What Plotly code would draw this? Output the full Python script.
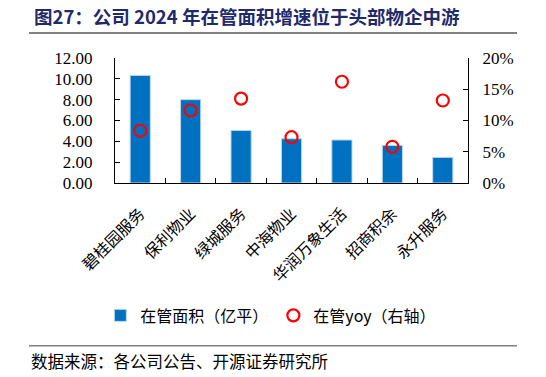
import plotly.graph_objects as go

categories = ["碧桂园服务", "保利物业", "绿城服务", "中海物业", "华润万象生活", "招商积余", "永升服务"]
area = [10.33, 8.00, 5.05, 4.25, 4.13, 3.61, 2.46]
yoy = [0.0836, 0.116, 0.135, 0.0733, 0.162, 0.0579, 0.132]

serif = "Liberation Serif, Times New Roman, serif"
cjk = "Noto Sans CJK SC"

fig = go.Figure()
fig.add_trace(go.Bar(
    x=categories, y=area, name="在管面积（亿平）",
    marker=dict(color="#0070C0", line=dict(color="#BDD7EE", width=1)),
    width=0.4,
))
fig.add_trace(go.Scatter(
    x=categories, y=yoy, name="在管yoy（右轴）", yaxis="y2", mode="markers",
    marker=dict(symbol="circle-open", size=12, color="#FF0000", line=dict(width=2.2, color="#FF0000")),
))

fig.update_layout(
    width=546, height=377,
    margin=dict(l=115, r=78, t=58, b=194, autoexpand=False),
    paper_bgcolor="white", plot_bgcolor="white",
    showlegend=True,
    legend=dict(orientation="h", x=0.45 - 3/353, xanchor="center", y=-(316.5-183.5)/125.5, yanchor="middle",
                font=dict(family=cjk, size=16, color="#000"), itemwidth=30,
                tracegroupgap=0, traceorder="normal"),
    xaxis=dict(type="category", showline=True, linecolor="#000", linewidth=1,
               ticks="inside", tickson="boundaries", ticklen=5, tickcolor="#000",
               tickangle=-45, tickfont=dict(family=cjk, size=16, color="#000"),
               showgrid=False, zeroline=False, automargin=False, ticklabelstandoff=14),
    yaxis=dict(range=[0, 12], dtick=2, tickformat=".2f", showline=True, linecolor="#000",
               linewidth=1, ticks="inside", ticklen=5, tickcolor="#000",
               tickfont=dict(family=serif, size=17, color="#000"), showgrid=False,
               zeroline=False, ticklabelstandoff=18, automargin=False),
    yaxis2=dict(range=[0, 0.2], dtick=0.05, tickformat=".0%", overlaying="y", side="right",
                showline=True, linecolor="#000", linewidth=1, ticks="inside", ticklen=5,
                tickcolor="#000", tickfont=dict(family=serif, size=17, color="#000"),
                showgrid=False, zeroline=False, ticklabelstandoff=10, automargin=False),
    bargap=0.6,
)

fig.add_annotation(xref="paper", yref="paper", x=(32-115)/353, y=1+(58-16)/125.5,
                   xanchor="left", yanchor="middle", showarrow=False,
                   text="<b>图27：公司 2024 年在管面积增速位于头部物企中游</b>",
                   font=dict(family=cjk, size=18.5, color="#1F2A6B"))
fig.add_annotation(xref="paper", yref="paper", x=(29-115)/353, y=-(362-183.5)/125.5,
                   xanchor="left", yanchor="middle", showarrow=False,
                   text="数据来源：各公司公告、开源证券研究所",
                   font=dict(family=cjk, size=16.5, color="#000"))

def py(p):
    return 1 - (p - 58) / 125.5

def px(p):
    return (p - 115) / 353

fig.add_shape(type="line", xref="paper", yref="paper", x0=px(29), x1=px(517), y0=py(33), y1=py(33),
              line=dict(color="#808080", width=2))
fig.add_shape(type="line", xref="paper", yref="paper", x0=px(29), x1=px(517), y0=py(347), y1=py(347),
              line=dict(color="#808080", width=1.5))

fig.write_html("out.html", config={"displayModeBar": False},
               post_script="document.body.style.margin='0';document.body.style.overflow='hidden';")
